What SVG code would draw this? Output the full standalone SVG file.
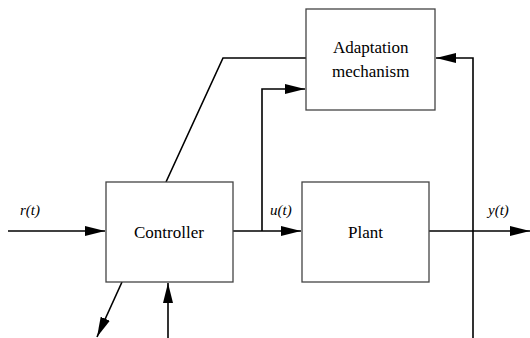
<svg xmlns="http://www.w3.org/2000/svg" width="530" height="338" viewBox="0 0 530 338">
<defs>
<marker id="ah" markerWidth="20" markerHeight="10" refX="20" refY="5" orient="auto" markerUnits="userSpaceOnUse">
<path d="M0,0 L20,5 L0,10 Z" fill="#000"/>
</marker>
</defs>
<rect width="530" height="338" fill="#fff"/>
<g id="connectors" fill="none" stroke="#000" stroke-width="1.6">
<path d="M8,231 H105" marker-end="url(#ah)"/>
<path d="M233,231 H301" marker-end="url(#ah)"/>
<path d="M262,231 V89 H305" marker-end="url(#ah)"/>
<path d="M166,182 L223,58 H306"/>
<path d="M429,231 H530" marker-end="url(#ah)"/>
<path d="M473,338 V58 H436" marker-end="url(#ah)"/>
<path d="M122,282 L97,337" marker-end="url(#ah)"/>
<path d="M168,338 V283" marker-end="url(#ah)"/>
</g>
<g id="adaptation">
<rect x="306" y="9" width="129" height="101" fill="#fff" stroke="#444" stroke-width="1.3"/>
<text x="333" y="53" font-family="Liberation Serif" font-size="17">Adaptation</text>
<text x="332" y="77" font-family="Liberation Serif" font-size="17">mechanism</text>
</g>
<g id="controller">
<rect x="106" y="182" width="127" height="100" fill="#fff" stroke="#444" stroke-width="1.3"/>
<text x="134" y="238" font-family="Liberation Serif" font-size="17">Controller</text>
</g>
<g id="plant">
<rect x="302" y="182" width="127" height="100" fill="#fff" stroke="#444" stroke-width="1.3"/>
<text x="348" y="238" font-family="Liberation Serif" font-size="17">Plant</text>
</g>
<g id="labels">
<text x="20" y="215" font-family="Liberation Serif" font-size="15" font-style="italic">r(t)</text>
<text x="270" y="215" font-family="Liberation Serif" font-size="15" font-style="italic">u(t)</text>
<text x="488" y="215" font-family="Liberation Serif" font-size="15" font-style="italic">y(t)</text>
</g>
</svg>
